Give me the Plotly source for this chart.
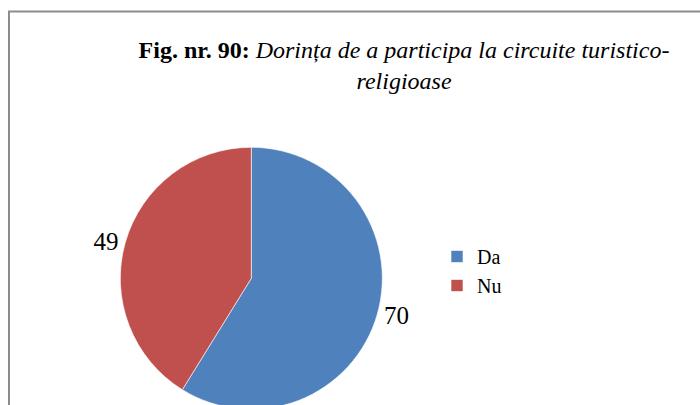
import plotly.graph_objects as go

categories = ["Da", "Nu"]
values = [70, 49]
colors = ["#4F81BD", "#C0504D"]
title_bold = "Fig. nr. 90:"
title_italic_1 = "Dorința de a participa la circuite turistico-"
title_italic_2 = "religioase"

# The visible window is 700x405; the figure is a bit taller so the pie's
# bottom is cut off by the window edge, as in the reference.
W, H = 700, 440
FONT = "Liberation Serif"

fig = go.Figure(
    go.Pie(
        labels=categories,
        values=values,
        marker=dict(colors=colors, line=dict(color="white", width=0.6)),
        sort=False,
        direction="clockwise",
        rotation=0,
        textinfo="value",
        textposition="outside",
        textfont=dict(family=FONT, size=25, color="black"),
        domain=dict(x=[120.3 / W, 382.3 / W], y=[(H - 409.3) / H, (H - 147.3) / H]),
        hoverinfo="label+value",
    )
)

fig.update_layout(
    width=W,
    height=H,
    margin=dict(l=0, r=0, t=0, b=0),
    paper_bgcolor="white",
    plot_bgcolor="white",
    font=dict(family=FONT, color="black"),
    title=dict(
        text=f"<b>{title_bold}</b> <i>{title_italic_1}</i><br><i>{title_italic_2}</i>",
        x=404 / W,
        xanchor="center",
        y=1 - 58 / H,
        yanchor="top",
        font=dict(family=FONT, size=24, color="black"),
    ),
    legend=dict(
        x=437 / W,
        xanchor="left",
        y=1 - 237 / H,
        yanchor="top",
        font=dict(family=FONT, size=20, color="black"),
        bgcolor="rgba(0,0,0,0)",
    ),
    shapes=[
        dict(
            type="rect",
            xref="paper",
            yref="paper",
            x0=9 / W,
            x1=1.02,
            y0=-0.05,
            y1=1 - 11.5 / H,
            line=dict(color="#8C8C8C", width=2),
            layer="above",
        )
    ],
)

fig.write_html(
    "out.html",
    config={"displayModeBar": False},
    post_script="document.body.style.margin='0';document.body.style.overflow='hidden';",
)
